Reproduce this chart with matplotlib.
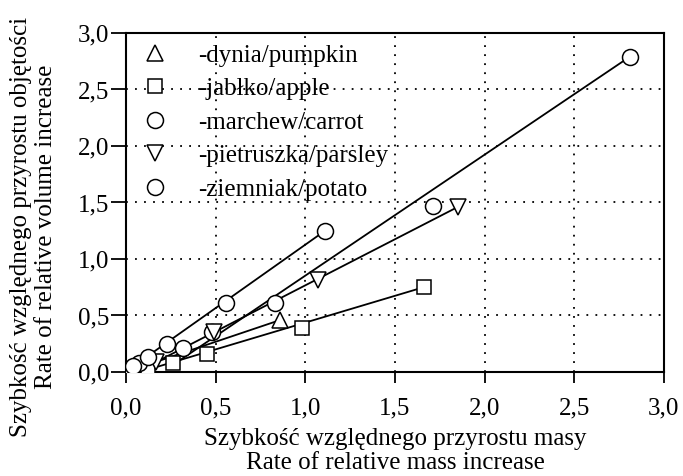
import matplotlib
matplotlib.use("Agg")
import matplotlib.pyplot as plt
from matplotlib.lines import Line2D
from matplotlib.ticker import FuncFormatter

plt.rcParams['font.family'] = ['Liberation Serif', 'DejaVu Serif']

# dane
pumpkin_x = [0.0, 0.86]
pumpkin_y = [0.0, 0.46]
apple_x = [0.12, 0.26, 0.45, 0.98, 1.66]
apple_y = [0.02, 0.08, 0.16, 0.39, 0.75]
carrot_x = [0.07, 0.32, 0.48, 0.83, 1.71, 2.81]
carrot_y = [0.08, 0.21, 0.35, 0.61, 1.47, 2.79]
parsley_x = [0.17, 0.49, 1.07, 1.85]
parsley_y = [0.09, 0.35, 0.81, 1.46]
potato_x = [0.04, 0.12, 0.23, 0.56, 1.11]
potato_y = [0.05, 0.13, 0.25, 0.61, 1.25]

# linie trendu (poczatek, koniec)
pumpkin_line = ([0.0, 0.86], [0.0, 0.46])
apple_line = ([0.12, 1.66], [0.02, 0.75])
carrot_line = ([0.25, 2.81], [0.05, 2.79])
parsley_line = ([0.17, 1.85], [0.09, 1.46])
potato_line = ([0.04, 1.11], [0.05, 1.25])

labels = ['-dynia/pumpkin', '-jabłko/apple', '-marchew/carrot',
          '-pietruszka/parsley', '-ziemniak/potato']
ticks = [0.0, 0.5, 1.0, 1.5, 2.0, 2.5, 3.0]
FS = 18

fig = plt.figure(figsize=(6.83, 4.76), dpi=100)
ax = fig.add_axes([0.1845, 0.2185, 0.972 - 0.1845, 0.9307 - 0.2185])

for lx, ly in [pumpkin_line, apple_line, carrot_line, parsley_line, potato_line]:
    ax.plot(lx, ly, color='black', linewidth=1.3, zorder=3)

mk = dict(linestyle='none', markerfacecolor='white', markeredgecolor='black',
          markeredgewidth=1.1, zorder=4)
ax.plot(pumpkin_x, pumpkin_y, marker='^', markersize=11, **mk)
ax.plot(apple_x, apple_y, marker='s', markersize=10, **mk)
ax.plot(carrot_x, carrot_y, marker='o', markersize=11.5, **mk)
ax.plot(parsley_x, parsley_y, marker='v', markersize=11, **mk)
ax.plot(potato_x, potato_y, marker='o', markersize=11.5, **mk)

ax.set_xlim(0, 3)
ax.set_ylim(0, 3)
ax.set_xticks(ticks)
ax.set_yticks(ticks)
fmt = FuncFormatter(lambda v, p: ('%.1f' % v).replace('.', ','))
ax.xaxis.set_major_formatter(fmt)
ax.yaxis.set_major_formatter(fmt)
ax.tick_params(direction='out', length=8, width=1.3, labelsize=FS, colors='black', pad=10)
ax.tick_params(axis='y', length=11, pad=1)
for s in ax.spines.values():
    s.set_linewidth(1.5)
ax.grid(True, color='black', linestyle=(0, (1, 4)), linewidth=1.3)
ax.set_axisbelow(True)

ax.set_xlabel('Szybkość względnego przyrostu masy\nRate of relative mass increase',
              fontsize=FS, linespacing=1.15)
ax.xaxis.set_label_coords(0.5, -0.165, transform=ax.transAxes)
ax.xaxis.label.set_va('top')
ax.set_ylabel('Szybkość względnego przyrostu objętości\nRate of relative volume increase',
              fontsize=FS, linespacing=1.12)
ax.yaxis.set_label_coords(-0.172, 0.428, transform=ax.transAxes)
ax.yaxis.label.set_va('center')
ax.yaxis.label.set_ha('center')

handles = [Line2D([], [], marker=m, markersize=ms, **mk)
           for m, ms in [('^', 11), ('s', 10), ('o', 11.5), ('v', 11), ('o', 11.5)]]
ax.legend(handles, labels, loc='upper left', bbox_to_anchor=(0.0, 1.0),
          frameon=False, fontsize=FS, labelspacing=0.44, handletextpad=1.04,
          handlelength=1.4, borderaxespad=0.0, borderpad=0.45)

fig.savefig('out.png', dpi=100)
